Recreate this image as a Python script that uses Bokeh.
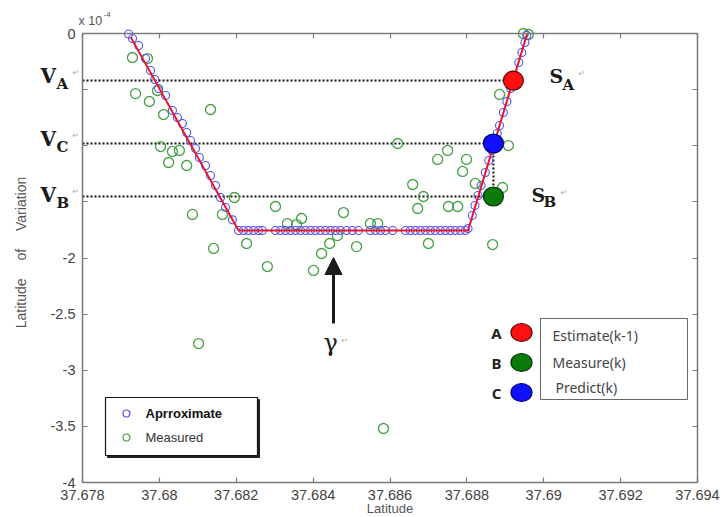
from math import pi
from bokeh.plotting import figure
from bokeh.models import Range1d, FixedTicker, LinearAxis, Label, Arrow, NormalHead, ColumnDataSource
from bokeh.core.properties import value
from bokeh.embed import file_html
from bokeh.resources import INLINE

# ---------------- data (latitude, variation in units of 1e-4) ----------------
approx_x = [
    37.67920, 37.67930, 37.67946, 37.67964, 37.67977, 37.67988, 37.67998, 37.68016,
    37.68034, 37.68047, 37.68060, 37.68071, 37.68081, 37.68094, 37.68104, 37.68120,
    37.68133, 37.68146, 37.68159, 37.68172, 37.68190,
    37.68206, 37.68219, 37.68232, 37.68245, 37.68258, 37.68268, 37.68302, 37.68315,
    37.68328, 37.68341, 37.68354, 37.68367, 37.68380, 37.68393, 37.68406, 37.68419,
    37.68432, 37.68445, 37.68458, 37.68471, 37.68487, 37.68502, 37.68518, 37.68549,
    37.68562, 37.68575, 37.68588, 37.68607, 37.68640, 37.68653, 37.68666, 37.68679,
    37.68692, 37.68705, 37.68718, 37.68731, 37.68744, 37.68757, 37.68770, 37.68783,
    37.68796,
    37.68803, 37.68814, 37.68821, 37.68829, 37.68837, 37.68848, 37.68857, 37.68865,
    37.68873, 37.68879, 37.68885, 37.68895, 37.68904, 37.68914, 37.68925, 37.68935,
    37.68943, 37.68951, 37.68956,
]
approx_y = [
    -0.005, -0.045, -0.107, -0.223, -0.330, -0.410, -0.490, -0.552,
    -0.686, -0.748, -0.802, -0.882, -0.953, -1.024, -1.105, -1.176,
    -1.265, -1.354, -1.461, -1.550, -1.660,
    -1.755, -1.755, -1.755, -1.755, -1.755, -1.755, -1.755, -1.755,
    -1.755, -1.755, -1.755, -1.755, -1.755, -1.755, -1.755, -1.755,
    -1.755, -1.755, -1.755, -1.755, -1.755, -1.755, -1.755, -1.755,
    -1.755, -1.755, -1.755, -1.755, -1.755, -1.755, -1.755, -1.755,
    -1.755, -1.755, -1.755, -1.755, -1.755, -1.755, -1.755, -1.755,
    -1.755,
    -1.737, -1.621, -1.532, -1.443, -1.354, -1.238, -1.131, -1.042,
    -0.953, -0.891, -0.820, -0.704, -0.606, -0.490, -0.374, -0.258,
    -0.169, -0.080, -0.018,
]

meas_x = [
    37.67930, 37.67969, 37.67938, 37.67974, 37.67995, 37.68011, 37.68133, 37.68003,
    37.68034, 37.68052, 37.68024, 37.68071, 37.68086, 37.68164, 37.68195, 37.68141,
    37.68102, 37.68227, 37.68281, 37.68302, 37.68333, 37.68357, 37.68370, 37.68401,
    37.68422, 37.68443, 37.68463, 37.68479, 37.68513, 37.68549, 37.68568, 37.68583,
    37.68620, 37.68659, 37.68672, 37.68687, 37.68700, 37.68724, 37.68750, 37.68752,
    37.68776, 37.68789, 37.68799, 37.68822, 37.68867, 37.68885, 37.68893, 37.68908,
    37.68947, 37.68960,
]
meas_y = [
    -0.214, -0.223, -0.535, -0.606, -0.508, -0.722, -0.677, -1.007,
    -1.051, -1.042, -1.149, -1.176, -1.612, -1.612, -1.461, -1.915,
    -2.762, -1.871, -2.076, -1.541, -1.693, -1.702, -1.648, -2.111,
    -1.960, -1.871, -1.800, -1.595, -1.898, -1.693, -1.693, -3.519,
    -0.980, -1.345, -1.559, -1.452, -1.871, -1.122, -1.042, -1.541,
    -1.541, -1.229, -1.122, -1.336, -1.880, -0.543, -1.372, -0.998,
    0.000, -0.009,
]

fit_x = [37.67925, 37.68206, 37.68803, 37.68957]
fit_y = [-0.030, -1.755, -1.755, 0.000]

est_x, est_y = [37.68921], [-0.419]      # A  Estimate(k-1)
mk_x, mk_y = [37.68869], [-1.452]        # B  Measure(k)
pr_x, pr_y = [37.68869], [-0.980]        # C  Predict(k)

x_ticks = [37.678, 37.680, 37.682, 37.684, 37.686, 37.688, 37.690, 37.692, 37.694]
x_tick_labels = ["37.678", "37.68", "37.682", "37.684", "37.686", "37.688", "37.69", "37.692", "37.694"]
y_ticks = [0.0, -0.5, -1.0, -1.5, -2.0, -2.5, -3.0, -3.5, -4.0]
y_tick_labels = ["0", "", "", "", "-2", "-2.5", "-3", "-3.5", "-4"]

XMIN, XMAX = 37.678, 37.694
YMIN, YMAX = -4.0, 0.0
PXX = 38437.5   # pixels per unit latitude
PXY = 112.25    # pixels per unit variation

def px(d):
    return d / PXX

def py(d):
    return d / PXY

# ------------- figure: the frame fills the canvas, the axes box sits inside -------------
p = figure(width=724, height=517,
           x_range=Range1d(XMIN - px(82), XMAX + px(27)),
           y_range=Range1d(YMIN - py(35), YMAX + py(33)),
           output_backend="svg", toolbar_location=None,
           min_border=0, min_border_left=0, min_border_right=0,
           min_border_top=0, min_border_bottom=0,
           background_fill_color="white", border_fill_color="white")
p.xgrid.visible = False
p.ygrid.visible = False
p.outline_line_color = None

AX = "#7a7a7a"
TICK_FONT = "Liberation Sans"

def style_axis(ax, ticks, loc, bounds):
    ax.ticker = FixedTicker(ticks=ticks)
    ax.fixed_location = loc
    ax.bounds = bounds
    ax.major_label_text_font_size = "0px"
    ax.major_label_text_color = None
    ax.major_label_standoff = 0
    ax.major_tick_in = 5
    ax.major_tick_out = 0
    ax.minor_tick_line_color = None
    ax.axis_line_color = AX
    ax.axis_line_width = 1.5
    ax.major_tick_line_color = AX
    ax.major_tick_line_width = 1.2

style_axis(p.xaxis[0], x_ticks, YMIN, (XMIN, XMAX))
style_axis(p.yaxis[0], y_ticks, XMIN, (YMIN, YMAX))
top = LinearAxis()
right = LinearAxis()
style_axis(top, x_ticks, YMAX, (XMIN, XMAX))
style_axis(right, y_ticks, XMAX, (YMIN, YMAX))
p.add_layout(top, "above")
p.add_layout(right, "right")

# tick labels, placed at the tick values along the box edges
xt = ColumnDataSource(dict(x=x_ticks, y=[YMIN] * len(x_ticks), t=x_tick_labels))
yt = ColumnDataSource(dict(x=[XMIN] * len(y_ticks), y=y_ticks, t=y_tick_labels))
p.text(x="x", y="y", text="t", source=xt, text_font=value(TICK_FONT), text_font_size="14.5px",
       text_color="#444444", text_align="center", text_baseline="top", y_offset=7)
p.text(x="x", y="y", text="t", source=yt, text_font=value(TICK_FONT), text_font_size="14.5px",
       text_color="#444444", text_align="right", text_baseline="middle", x_offset=-7)

# dotted guide lines
p.multi_line(xs=[[XMIN, est_x[0]], [XMIN, pr_x[0]], [XMIN, mk_x[0]], [pr_x[0], mk_x[0]]],
             ys=[[est_y[0], est_y[0]], [pr_y[0], pr_y[0]], [mk_y[0], mk_y[0]], [pr_y[0], mk_y[0]]],
             line_color="#111111", line_width=2, line_dash="2 2")

# data
p.scatter(meas_x, meas_y, marker="circle", size=10, fill_color=None,
          line_color="#45a045", line_width=1.3)
p.scatter(approx_x, approx_y, marker="circle", size=8, fill_color=None,
          line_color="#5050f0", line_width=1.1)
p.line(fit_x, fit_y, line_color="#e8142c", line_width=2)

# big dots A, B, C
dot_colors = [("#ff1010", "#5a0000"), ("#0a7a0a", "#003000"), ("#1010ff", "#000060")]
for (xs, ys), (fc, lc) in zip([(est_x, est_y), (mk_x, mk_y), (pr_x, pr_y)], dot_colors):
    p.ellipse(x=xs, y=ys, width=20, height=19, width_units="screen", height_units="screen",
              fill_color=fc, line_color=lc, line_width=1.2)

# ---------------- legends (drawn as glyphs) ----------------
lx0, lx1 = XMIN + px(23), XMIN + px(175)
ly0, ly1 = -py(364), -py(422)
p.quad(left=[lx0 + px(2)], right=[lx1 + px(2)], top=[ly0 - py(2)], bottom=[ly1 - py(2)],
       fill_color="#222222", line_color="#222222")
p.quad(left=[lx0], right=[lx1], top=[ly0], bottom=[ly1],
       fill_color="white", line_color="#111111", line_width=1.2)
p.scatter([XMIN + px(44)], [-py(380)], marker="circle", size=7, fill_color=None,
          line_color="#5050f0", line_width=1.2)
p.scatter([XMIN + px(44)], [-py(404)], marker="circle", size=7, fill_color=None,
          line_color="#45a045", line_width=1.2)
p.add_layout(Label(x=XMIN + px(63), y=-py(380), text="Aprroximate", text_font="Liberation Sans",
                   text_font_style="bold", text_font_size="13px", text_color="#111111",
                   text_baseline="middle"))
p.add_layout(Label(x=XMIN + px(63), y=-py(404), text="Measured", text_font="Liberation Sans",
                   text_font_size="13px", text_color="#333333", text_baseline="middle"))

p.quad(left=[XMIN + px(458)], right=[XMIN + px(605)], top=[-py(285)], bottom=[-py(366)],
       fill_color="white", line_color="#666666", line_width=1)
leg_texts = ["Estimate(k-1)", "Measure(k)", "Predict(k)"]
leg_letters = ["A", "B", "C"]
leg_rows = [302, 329, 354]
dot_rows = [299, 329, 359]
for i in range(3):
    fc, lc = dot_colors[i]
    p.ellipse(x=[XMIN + px(439)], y=[-py(dot_rows[i])], width=21, height=18,
              width_units="screen", height_units="screen",
              fill_color=fc, line_color=lc, line_width=1.2)
    p.add_layout(Label(x=XMIN + px(414), y=-py(dot_rows[i]), text=leg_letters[i],
                       text_font="Noto Sans", text_font_style="bold", text_font_size="15px",
                       text_color="#222222", text_align="center", text_baseline="middle"))
    p.add_layout(Label(x=XMIN + px(470 + (3 if i == 2 else 0)), y=-py(leg_rows[i]), text=leg_texts[i],
                       text_font="Noto Sans", text_font_size="14px", text_color="#444444",
                       text_baseline="middle"))

# ---------------- text annotations ----------------
SERIF = "DejaVu Serif"

def lab(x, y, t, size, style="bold", color="#1a1a1a", font=SERIF, **kw):
    p.add_layout(Label(x=x, y=y, text=t, text_font=font, text_font_style=style,
                       text_font_size=size, text_color=color, text_baseline="middle", **kw))

RET = "\u21b5"
for vy, sub in [(42, "A"), (105, "C"), (161, "B")]:
    lab(XMIN - px(42), -py(vy), "V", "20px")
    lab(XMIN - px(26), -py(vy + 8), sub, "15px")
    lab(XMIN - px(10), -py(vy - 3), RET, "8px", style="normal", color="#aaaaaa", font="DejaVu Sans")

lab(XMIN + px(467), -py(42), "S", "19px")
lab(XMIN + px(480), -py(51), "A", "15px")
lab(XMIN + px(496), -py(40), RET, "8px", style="normal", color="#aaaaaa", font="DejaVu Sans")
lab(XMIN + px(449), -py(161), "S", "19px")
lab(XMIN + px(461), -py(168), "B", "15px")
lab(XMIN + px(478), -py(159), RET, "8px", style="normal", color="#aaaaaa", font="DejaVu Sans")

lab(XMIN + px(241), -py(309), "\u03b3", "24px", style="normal")
lab(XMIN + px(259), -py(307), RET, "8px", style="normal", color="#aaaaaa", font="DejaVu Sans")

p.add_layout(Arrow(end=NormalHead(size=17, fill_color="#1a1a1a", line_color="#1a1a1a"),
                   x_start=XMIN + px(251), y_start=-py(290), x_end=XMIN + px(251), y_end=-py(224),
                   line_color="#1a1a1a", line_width=3))

# exponent label above the box
lab(XMIN - px(4), YMAX + py(13), "x 10", "12.5px", style="normal", color="#555555", font=TICK_FONT)
lab(XMIN + px(21), YMAX + py(19), "-4", "8px", style="normal", color="#555555", font=TICK_FONT)

# axis titles
p.add_layout(Label(x=XMIN - px(62), y=-py(219), text="Latitude \u2003of \u2003Variation",
                   angle=pi / 2, text_font=TICK_FONT, text_font_size="14px", text_color="#555555",
                   text_align="center", text_baseline="middle"))
p.add_layout(Label(x=(XMIN + XMAX) / 2, y=YMIN - py(33), text="Latitude",
                   text_font=TICK_FONT, text_font_size="13px", text_color="#555555",
                   text_align="center", text_baseline="bottom"))

open("out.html", "w").write(file_html(p, INLINE))
